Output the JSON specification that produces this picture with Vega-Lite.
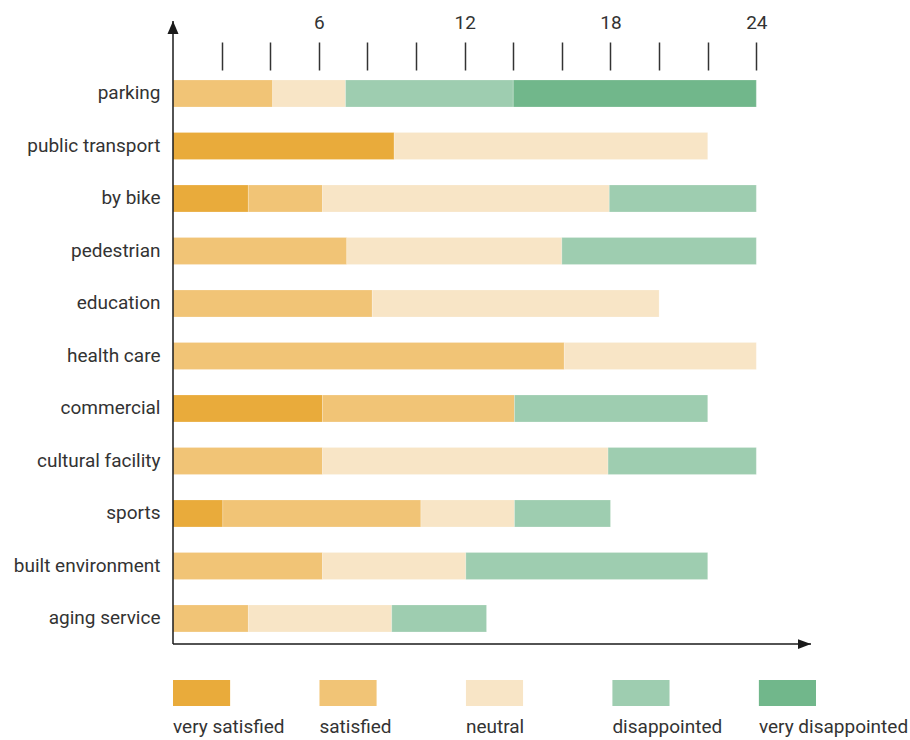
{
  "$schema": "https://vega.github.io/schema/vega-lite/v6.json",
  "background": "white",
  "padding": {"left": 13, "top": 13, "right": 5, "bottom": 5},
  "datasets": {
    "survey": [
      {"item": "parking", "level": "satisfied", "rank": 2, "value": 4.1},
      {"item": "parking", "level": "neutral", "rank": 3, "value": 3.0},
      {"item": "parking", "level": "disappointed", "rank": 4, "value": 6.9},
      {"item": "parking", "level": "very disappointed", "rank": 5, "value": 10.0},
      {"item": "public transport", "level": "very satisfied", "rank": 1, "value": 9.1},
      {"item": "public transport", "level": "neutral", "rank": 3, "value": 12.9},
      {"item": "by bike", "level": "very satisfied", "rank": 1, "value": 3.1},
      {"item": "by bike", "level": "satisfied", "rank": 2, "value": 3.05},
      {"item": "by bike", "level": "neutral", "rank": 3, "value": 11.8},
      {"item": "by bike", "level": "disappointed", "rank": 4, "value": 6.05},
      {"item": "pedestrian", "level": "satisfied", "rank": 2, "value": 7.15},
      {"item": "pedestrian", "level": "neutral", "rank": 3, "value": 8.85},
      {"item": "pedestrian", "level": "disappointed", "rank": 4, "value": 8.0},
      {"item": "education", "level": "satisfied", "rank": 2, "value": 8.2},
      {"item": "education", "level": "neutral", "rank": 3, "value": 11.8},
      {"item": "health care", "level": "satisfied", "rank": 2, "value": 16.1},
      {"item": "health care", "level": "neutral", "rank": 3, "value": 7.9},
      {"item": "commercial", "level": "very satisfied", "rank": 1, "value": 6.15},
      {"item": "commercial", "level": "satisfied", "rank": 2, "value": 7.9},
      {"item": "commercial", "level": "disappointed", "rank": 4, "value": 7.95},
      {"item": "cultural facility", "level": "satisfied", "rank": 2, "value": 6.15},
      {"item": "cultural facility", "level": "neutral", "rank": 3, "value": 11.75},
      {"item": "cultural facility", "level": "disappointed", "rank": 4, "value": 6.1},
      {"item": "sports", "level": "very satisfied", "rank": 1, "value": 2.05},
      {"item": "sports", "level": "satisfied", "rank": 2, "value": 8.15},
      {"item": "sports", "level": "neutral", "rank": 3, "value": 3.85},
      {"item": "sports", "level": "disappointed", "rank": 4, "value": 3.95},
      {"item": "built environment", "level": "satisfied", "rank": 2, "value": 6.15},
      {"item": "built environment", "level": "neutral", "rank": 3, "value": 5.9},
      {"item": "built environment", "level": "disappointed", "rank": 4, "value": 9.95},
      {"item": "aging service", "level": "satisfied", "rank": 2, "value": 3.1},
      {"item": "aging service", "level": "neutral", "rank": 3, "value": 5.9},
      {"item": "aging service", "level": "disappointed", "rank": 4, "value": 3.9}
    ]
  },
  "bounds": "flush",
  "spacing": 36,
  "vconcat": [
    {
      "width": 638,
      "height": 623,
      "data": {"name": "survey"},
      "layer": [
        {
          "mark": {"type": "bar", "stroke": "white", "strokeWidth": 0.5, "strokeOpacity": 0.4},
          "encoding": {
            "y": {
              "field": "item",
              "type": "nominal",
              "sort": ["parking", "public transport", "by bike", "pedestrian", "education", "health care", "commercial", "cultural facility", "sports", "built environment", "aging service"],
              "scale": {"paddingInner": 0.486, "paddingOuter": 0.677, "align": 0.83},
              "axis": {"title": null, "domain": false, "ticks": false, "tickSize": 0, "labelPadding": 13, "labelFontSize": 19, "labelColor": "#333333", "labelFont": "Roboto"}
            },
            "x": {
              "field": "value",
              "type": "quantitative",
              "aggregate": "sum",
              "stack": "zero",
              "scale": {"domain": [0, 26.25], "nice": false, "zero": true},
              "axis": {
                "orient": "top",
                "offset": -49,
                "values": [2, 4, 6, 8, 10, 12, 14, 16, 18, 20, 22, 24],
                "labelExpr": "datum.value % 6 === 0 ? datum.label : ''",
                "domain": false,
                "grid": false,
                "tickSize": 28,
                "tickWidth": 1.5,
                "tickColor": "#333333",
                "labelPadding": 10,
                "labelFontSize": 19,
                "labelFont": "Roboto",
                "labelColor": "#333333",
                "title": null
              }
            },
            "color": {
              "field": "level",
              "type": "nominal",
              "sort": ["very satisfied", "satisfied", "neutral", "disappointed", "very disappointed"],
              "scale": {
                "domain": ["very satisfied", "satisfied", "neutral", "disappointed", "very disappointed"],
                "range": ["#E9AB3B", "#F1C476", "#F8E5C6", "#9ECDB0", "#71B78B"]
              },
              "legend": null
            },
            "order": {"field": "rank", "type": "quantitative", "sort": "ascending"}
          }
        },
        {
          "data": {"values": [{}]},
          "layer": [
            {
              "mark": {"type": "rule", "color": "#1a1a1a", "strokeWidth": 1.5},
              "encoding": {
                "x": {"datum": 0, "type": "quantitative", "axis": null},
                "y": {"datum": 0, "type": "quantitative", "scale": {"domain": [0, 1], "nice": false}, "axis": null},
                "y2": {"datum": 1}
              }
            },
            {
              "mark": {"type": "rule", "color": "#1a1a1a", "strokeWidth": 1.5},
              "encoding": {
                "x": {"datum": 0, "type": "quantitative", "axis": null},
                "x2": {"datum": 26.25},
                "y": {"datum": 0, "type": "quantitative", "axis": null}
              }
            },
            {
              "mark": {"type": "point", "shape": "M0,0L-0.85,2L0.85,2Z", "filled": true, "size": 169, "color": "#1a1a1a", "opacity": 1},
              "encoding": {
                "x": {"datum": 0, "type": "quantitative", "axis": null},
                "y": {"datum": 1, "type": "quantitative", "axis": null}
              }
            },
            {
              "mark": {"type": "point", "shape": "M0,0L-2,-0.75L-2,0.75Z", "filled": true, "size": 169, "color": "#1a1a1a", "opacity": 1},
              "encoding": {
                "x": {"datum": 26.25, "type": "quantitative", "axis": null},
                "y": {"datum": 0, "type": "quantitative", "axis": null}
              }
            }
          ]
        }
      ],
      "resolve": {"scale": {"y": "independent"}, "axis": {"x": "independent"}}
    },
    {
      "width": 643,
      "height": 26,
      "data": {"name": "survey"},
      "transform": [{"aggregate": [{"op": "count", "as": "n"}], "groupby": ["level"]}],
      "layer": [
        {
          "mark": {"type": "rect"},
          "encoding": {
            "x": {
              "field": "level",
              "type": "nominal",
              "sort": ["very satisfied", "satisfied", "neutral", "disappointed", "very disappointed"],
              "scale": {"paddingInner": 0.61, "paddingOuter": 0, "align": 0},
              "axis": null
            },
            "color": {
              "field": "level",
              "type": "nominal",
              "legend": null
            }
          }
        },
        {
          "mark": {"type": "text", "align": "left", "baseline": "middle", "dy": 34, "fontSize": 19, "font": "Roboto", "color": "#333333"},
          "encoding": {
            "x": {
              "field": "level",
              "type": "nominal",
              "sort": ["very satisfied", "satisfied", "neutral", "disappointed", "very disappointed"],
              "bandPosition": 0,
              "axis": null
            },
            "text": {"field": "level"}
          }
        }
      ]
    }
  ],
  "config": {
    "view": {"stroke": null},
    "font": "Roboto"
  }
}
